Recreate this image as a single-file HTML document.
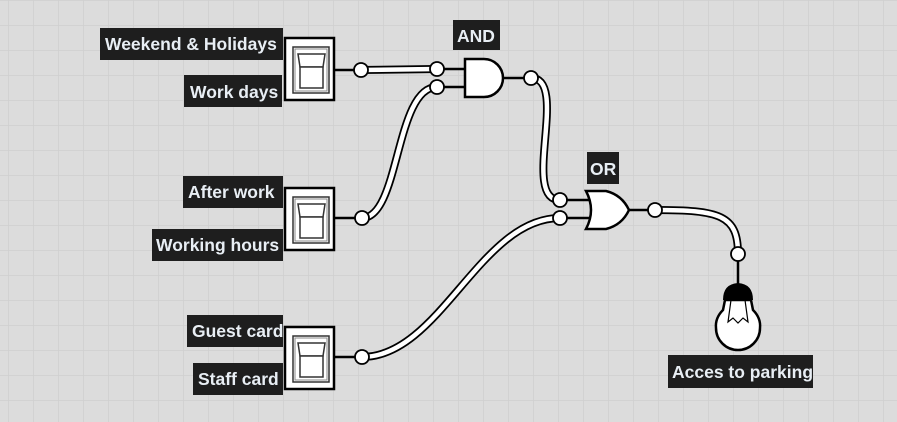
<!DOCTYPE html>
<html><head><meta charset="utf-8"><style>
html,body{margin:0;padding:0;}
body{width:897px;height:422px;overflow:hidden;background:#dcdcdc;}
svg{display:block;}
text{font-family:"Liberation Sans",sans-serif;font-weight:bold;font-size:17.5px;fill:#e8eef4;}
</style></head><body>
<svg width="897" height="422" viewBox="0 0 897 422" xmlns="http://www.w3.org/2000/svg">
<defs>
<pattern id="g" width="25" height="25" patternUnits="userSpaceOnUse" x="8" y="0">
<path d="M0 0H25M0 0V25" stroke="#cfcfcf" stroke-width="1.5" fill="none"/>
</pattern>
<g id="sw">
<rect x="0" y="0" width="49" height="62" fill="#fff" stroke="#000" stroke-width="2.5"/>
<rect x="8" y="9" width="36" height="46" fill="#fff" stroke="#333" stroke-width="1.5"/>
<rect x="10" y="11" width="32" height="42" fill="#fff" stroke="#888" stroke-width="1"/>
<path d="M13 16 L40 16 L38 29 L15 29 Z" fill="#fff" stroke="#333" stroke-width="1.5"/>
<rect x="15" y="29" width="23" height="21" fill="#fff" stroke="#333" stroke-width="1.5"/>
</g>
</defs>
<rect width="897" height="422" fill="url(#g)"/>

<g fill="none" stroke-linecap="round">
<g stroke="#000" stroke-width="8">
<path d="M361 70 L437 69"/>
<path d="M362 218 C400 218 395 87 437 87"/>
<path d="M531 78 C570 78 520 200 560 200"/>
<path d="M362 357 C440 357 480 218 560 218"/>
<path d="M655 210 C720 210 738 215 738 254"/>
</g>
<g stroke="#fff" stroke-width="4.5">
<path d="M361 70 L437 69"/>
<path d="M362 218 C400 218 395 87 437 87"/>
<path d="M531 78 C570 78 520 200 560 200"/>
<path d="M362 357 C440 357 480 218 560 218"/>
<path d="M655 210 C720 210 738 215 738 254"/>
</g>
</g>
<g stroke="#000" stroke-width="2.5">
<line x1="333" y1="70" x2="361" y2="70"/>
<line x1="333" y1="218" x2="362" y2="218"/>
<line x1="333" y1="357" x2="362" y2="357"/>
<line x1="437" y1="69" x2="466" y2="69"/>
<line x1="437" y1="87" x2="466" y2="87"/>
<line x1="503" y1="78" x2="531" y2="78"/>
<line x1="560" y1="200" x2="590" y2="200"/>
<line x1="560" y1="218" x2="590" y2="218"/>
<line x1="628" y1="210" x2="655" y2="210"/>
<line x1="738" y1="254" x2="738" y2="285"/>
</g>

<use href="#sw" x="285" y="38"/>
<use href="#sw" x="285" y="188"/>
<use href="#sw" x="285" y="327"/>

<path d="M465 59 L484 59 A19 19 0 0 1 484 97 L465 97 Z" fill="#fff" stroke="#000" stroke-width="2.5"/>
<path d="M586 191 L606 191 Q622 195 629 210 Q622 225 606 229 L586 229 Q596 210 586 191 Z" fill="#fff" stroke="#000" stroke-width="2.5"/>

<g fill="#fff" stroke="#000" stroke-width="1.8">
<circle cx="361" cy="70" r="7"/>
<circle cx="437" cy="69" r="7"/>
<circle cx="437" cy="87" r="7"/>
<circle cx="531" cy="78" r="7"/>
<circle cx="362" cy="218" r="7"/>
<circle cx="560" cy="200" r="7"/>
<circle cx="560" cy="218" r="7"/>
<circle cx="655" cy="210" r="7"/>
<circle cx="738" cy="254" r="7"/>
<circle cx="362" cy="357" r="7"/>
</g>

<path d="M725 300 L751 300 L753 310 Q761 318 760 328 A22 22 0 0 1 716 328 Q715 318 723 310 Z" fill="#fff" stroke="#000" stroke-width="2.5"/>
<path d="M723 300 Q723 284 738 283 Q753 284 753 300 Z" fill="#000"/>
<path d="M731 300 L728 322 L733 318 L738 323 L743 318 L748 322 L745 300" fill="none" stroke="#000" stroke-width="1.2"/>

<g fill="#1e1e1e">
<rect x="100" y="28" width="183" height="32"/>
<rect x="184" y="75" width="98" height="32"/>
<rect x="453" y="20" width="47" height="30"/>
<rect x="183" y="176" width="100" height="32"/>
<rect x="152" y="229" width="131" height="32"/>
<rect x="587" y="152" width="32" height="32"/>
<rect x="187" y="315" width="96" height="32"/>
<rect x="193" y="363" width="90" height="32"/>
<rect x="668" y="355" width="145" height="33"/>
</g>
<text x="105" y="50">Weekend &amp; Holidays</text>
<text x="190" y="98">Work days</text>
<text x="457" y="42">AND</text>
<text x="188" y="198">After work</text>
<text x="156" y="251">Working hours</text>
<text x="590" y="175">OR</text>
<text x="192" y="337">Guest card</text>
<text x="198" y="385">Staff card</text>
<text x="672" y="378">Acces to parking</text>
</svg>
</body></html>
